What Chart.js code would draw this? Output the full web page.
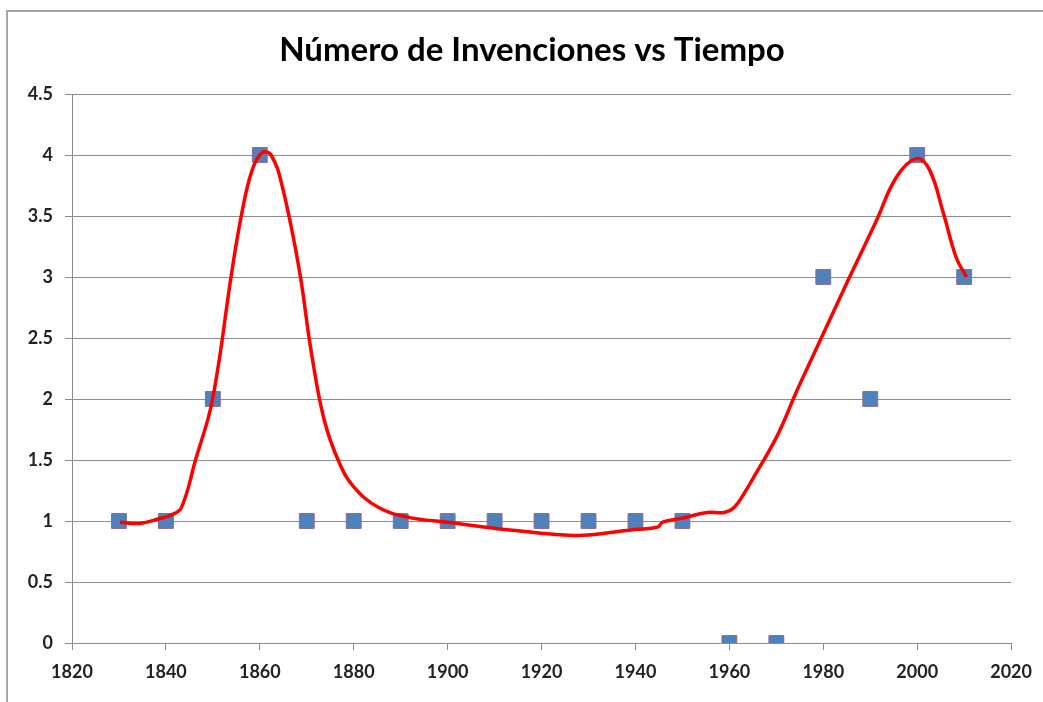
<!DOCTYPE html>
<html>
<head>
<meta charset="utf-8">
<script src="https://cdn.jsdelivr.net/npm/chart.js@4.4.1/dist/chart.umd.min.js"></script>
<style>
    html, body { margin: 0; padding: 0; background: #fff; overflow: hidden; }
    #wrap { position: relative; width: 1043px; height: 702px; }
    #frame {
        position: absolute; left: 6px; top: 10px; width: 1100px; height: 760px;
        border-left: 2px solid #a6a6a6; border-top: 2px solid #a6a6a6;
    }
    #chart { position: absolute; left: 0; top: 0; }
</style>
</head>
<body>
<div id="wrap">
    <div id="frame"></div>
    <canvas id="chart" width="1043" height="702"></canvas>
</div>
<script>
// inventions counted per decade
const years = [1830, 1840, 1850, 1860, 1870, 1880, 1890, 1900, 1910, 1920,
               1930, 1940, 1950, 1960, 1970, 1980, 1990, 2000, 2010];
const inventions = [1, 1, 2, 4, 1, 1, 1, 1, 1, 1, 1, 1, 1, 0, 0, 3, 2, 4, 3];

// hand-drawn trend curve, sampled along its path
const trendYears = [1830.2, 1834.4, 1838.7, 1841.2, 1843.3, 1846.3, 1849.9,
                    1854.1, 1856.3, 1858.4, 1860.5, 1862.4, 1864.8, 1868.4,
                    1870.9, 1873.7, 1876.9, 1880.0, 1885.3, 1891.7, 1900.0,
                    1909.9, 1919.9, 1925.0, 1929.9, 1939.8, 1944.7, 1945.8,
                    1949.6, 1955.3, 1958.9, 1961.0, 1963.2, 1964.9, 1970.2,
                    1974.4, 1979.7, 1985.0, 1991.4, 1995.6, 1999.8, 2002.6,
                    2005.6, 2008.3, 2010.5];
const trendValues = [0.99, 0.98, 1.02, 1.05, 1.11, 1.5, 1.99,
                     3.06, 3.55, 3.88, 4.02, 4.0, 3.74, 3.06,
                     2.4, 1.83, 1.48, 1.28, 1.11, 1.03, 0.99,
                     0.94, 0.90, 0.885, 0.885, 0.93, 0.95, 0.99,
                     1.02, 1.07, 1.07, 1.11, 1.23, 1.34, 1.70,
                     2.07, 2.51, 2.95, 3.47, 3.82, 3.97, 3.88,
                     3.52, 3.16, 3.0];

const yTicks = [0, 0.5, 1, 1.5, 2, 2.5, 3, 3.5, 4, 4.5];
const xTicks = [1820, 1840, 1860, 1880, 1900, 1920, 1940, 1960, 1980, 2000, 2020];

const titleText = 'Número de Invenciones vs Tiempo';

const titlePlugin = {
    id: 'chartTitle',
    afterDraw(chart) {
        const ctx = chart.ctx;
        ctx.save();
        ctx.font = 'bold 33px Lato';
        ctx.fillStyle = '#000';
        ctx.textAlign = 'center';
        ctx.textBaseline = 'middle';
        ctx.fillText(titleText, 532, 50);
        ctx.restore();
    }
};

const axisFont = { family: 'Lato', size: 18, weight: 'bold' };
const gridColor = '#8c8c8c';

const ctx = document.getElementById('chart').getContext('2d');
const chart = new Chart(ctx, {
    type: 'scatter',
    data: {
        datasets: [{
            label: 'Tendencia',
            data: trendYears.map((x, i) => ({ x: x, y: trendValues[i] })),
            showLine: true,
            borderColor: '#ff0000',
            borderWidth: 3.5,
            pointRadius: 0,
            tension: 0.4,
            order: 0
        }, {
            label: 'Invenciones',
            data: years.map((x, i) => ({ x: x, y: inventions[i] })),
            pointStyle: 'rect',
            pointRadius: 10.5,
            backgroundColor: '#4f81bd',
            borderColor: '#8a6a92',
            borderWidth: 1,
            order: 1
        }]
    },
    options: {
        responsive: false,
        animation: false,
        layout: {
            padding: { top: 94, right: 28, bottom: 0, left: 0 }
        },
        plugins: {
            legend: { display: false },
            tooltip: { enabled: false }
        },
        scales: {
            x: {
                type: 'linear',
                min: xTicks[0],
                max: xTicks[xTicks.length - 1],
                afterBuildTicks: (scale) => { scale.ticks = xTicks.map(v => ({ value: v })); },
                afterFit: (scale) => { scale.height = 59; },
                border: { color: gridColor, width: 1 },
                grid: {
                    drawOnChartArea: false,
                    drawTicks: true,
                    tickLength: 7,
                    color: gridColor
                },
                ticks: {
                    font: axisFont,
                    color: '#222',
                    padding: 11,
                    maxRotation: 0,
                    callback: (v) => String(v)
                }
            },
            y: {
                min: yTicks[0],
                max: yTicks[yTicks.length - 1],
                afterBuildTicks: (scale) => { scale.ticks = yTicks.map(v => ({ value: v })); },
                afterFit: (scale) => { scale.width = 72; },
                border: { color: gridColor, width: 1 },
                grid: {
                    color: gridColor,
                    lineWidth: 1,
                    tickLength: 7
                },
                ticks: {
                    font: axisFont,
                    color: '#222',
                    padding: 12,
                    callback: (v) => String(v)
                }
            }
        }
    },
    plugins: [titlePlugin]
});
</script>
</body>
</html>
